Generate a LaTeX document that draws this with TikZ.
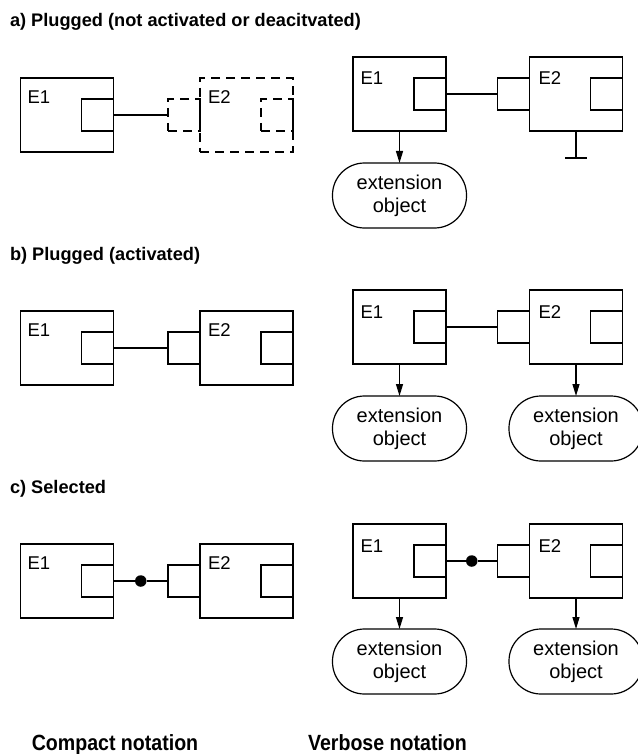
\documentclass[tikz,border=0pt]{standalone}
\usepackage{fontspec}
\setmainfont{Liberation Sans}
\usetikzlibrary{arrows.meta,calc}
\begin{document}
\begin{tikzpicture}[x=1pt,y=-1pt,
  every node/.style={inner sep=0pt, outer sep=0pt},
  lw/.style={line width=1.2pt},
  ent/.style={draw, lw, minimum width=93pt, minimum height=74pt},
  port/.style={draw, lw, minimum width=32pt, minimum height=32pt},
  dsh/.style={dash pattern=on 9pt off 6pt},
  elab/.style={anchor=base west, font=\fontsize{18.5}{21}\selectfont},
  ext/.style={draw, lw, rounded corners=32pt, minimum width=134pt, minimum height=65pt, align=center, font=\fontsize{20}{23}\selectfont},
  title/.style={anchor=base west, font=\fontsize{18.2}{21}\selectfont\bfseries},
  foot/.style={anchor=base, font=\fontsize{22}{26}\selectfont\bfseries},
  conn/.style={draw, lw},
  arr/.style={draw, lw, -{Triangle[length=12pt,width=7pt]}},
  sel/.style={circle, fill=black, minimum size=11.5pt}
]
\useasboundingbox (0,0) rectangle (637,754);

% titles
\node[title] (ta) at (10,26.7) {a) Plugged (not activated or deacitvated)};
\node[title] (tb) at (10,260) {b) Plugged (activated)};
\node[title] (tc) at (10,493) {c) Selected};

% ===== a) compact
\node[ent] (a1c) at (67,115) {};
\node[port, anchor=east] (a1cp) at (a1c.east) {};
\node[ent, dsh] (a2c) at (246.5,115) {};
\node[port, dsh, anchor=east] (a2cq) at (a2c.west) {};
\node[port, dsh, anchor=east] (a2cp) at (a2c.east) {};
\node[elab] (a1cl) at ([shift={(7,25.5)}]a1c.north west) {E1};
\node[elab] (a2cl) at ([shift={(8,25.5)}]a2c.north west) {E2};
\draw[conn] (a1cp.east) -- (a2cq.west);

% ===== a) verbose
\node[ent] (a1v) at (399.5,94) {};
\node[port, anchor=east] (a1vp) at (a1v.east) {};
\node[ent] (a2v) at (576,94) {};
\node[port, anchor=east] (a2vq) at (a2v.west) {};
\node[port, anchor=east] (a2vp) at (a2v.east) {};
\node[elab] (a1vl) at ([shift={(7.5,28)}]a1v.north west) {E1};
\node[elab] (a2vl) at ([shift={(9,28)}]a2v.north west) {E2};
\draw[conn] (a1vp.east) -- (a2vq.west);
\node[ext] (a1vx) at (399.5,195.5) {extension\\object};
\draw[arr] (a1v.south) -- (a1vx.north);
\coordinate (gnd) at (576,158);
\coordinate (gndl) at (565,158);
\coordinate (gndr) at (587,158);
\draw[conn] (a2v.south) -- (gnd);
\draw[conn] (gndl) -- (gndr);

% ===== b) compact
\node[ent] (b1c) at (67,348) {};
\node[port, anchor=east] (b1cp) at (b1c.east) {};
\node[ent] (b2c) at (246.5,348) {};
\node[port, anchor=east] (b2cq) at (b2c.west) {};
\node[port, anchor=east] (b2cp) at (b2c.east) {};
\node[elab] (b1cl) at ([shift={(7,25.5)}]b1c.north west) {E1};
\node[elab] (b2cl) at ([shift={(8,25.5)}]b2c.north west) {E2};
\draw[conn] (b1cp.east) -- (b2cq.west);

% ===== b) verbose
\node[ent] (b1v) at (399.5,327) {};
\node[port, anchor=east] (b1vp) at (b1v.east) {};
\node[ent] (b2v) at (576,327) {};
\node[port, anchor=east] (b2vq) at (b2v.west) {};
\node[port, anchor=east] (b2vp) at (b2v.east) {};
\node[elab] (b1vl) at ([shift={(7.5,28)}]b1v.north west) {E1};
\node[elab] (b2vl) at ([shift={(9,28)}]b2v.north west) {E2};
\draw[conn] (b1vp.east) -- (b2vq.west);
\node[ext] (b1vx) at (399.5,428.5) {extension\\object};
\node[ext] (b2vx) at (576,428.5) {extension\\object};
\draw[arr] (b1v.south) -- (b1vx.north);
\draw[arr] (b2v.south) -- (b2vx.north);

% ===== c) compact
\node[ent] (c1c) at (67,581) {};
\node[port, anchor=east] (c1cp) at (c1c.east) {};
\node[ent] (c2c) at (246.5,581) {};
\node[port, anchor=east] (c2cq) at (c2c.west) {};
\node[port, anchor=east] (c2cp) at (c2c.east) {};
\node[elab] (c1cl) at ([shift={(7,25.5)}]c1c.north west) {E1};
\node[elab] (c2cl) at ([shift={(8,25.5)}]c2c.north west) {E2};
\node[sel] (c0c) at ($(c1cp.east)!0.5!(c2cq.west)$) {};
\draw[conn] (c1cp.east) -- (c0c) -- (c2cq.west);

% ===== c) verbose
\node[ent] (c1v) at (399.5,561) {};
\node[port, anchor=east] (c1vp) at (c1v.east) {};
\node[ent] (c2v) at (576,561) {};
\node[port, anchor=east] (c2vq) at (c2v.west) {};
\node[port, anchor=east] (c2vp) at (c2v.east) {};
\node[elab] (c1vl) at ([shift={(7.5,28)}]c1v.north west) {E1};
\node[elab] (c2vl) at ([shift={(9,28)}]c2v.north west) {E2};
\node[sel] (c0v) at ($(c1vp.east)!0.5!(c2vq.west)$) {};
\draw[conn] (c1vp.east) -- (c0v) -- (c2vq.west);
\node[ext] (c1vx) at (399.5,661.5) {extension\\object};
\node[ext] (c2vx) at (576,661.5) {extension\\object};
\draw[arr] (c1v.south) -- (c1vx.north);
\draw[arr] (c2v.south) -- (c2vx.north);

% footer
\node[foot] (fc) at (115,750) {\scalebox{0.89}[1]{Compact notation}};
\node[foot] (fv) at (387.5,750) {\scalebox{0.89}[1]{Verbose notation}};
\end{tikzpicture}
\end{document}
